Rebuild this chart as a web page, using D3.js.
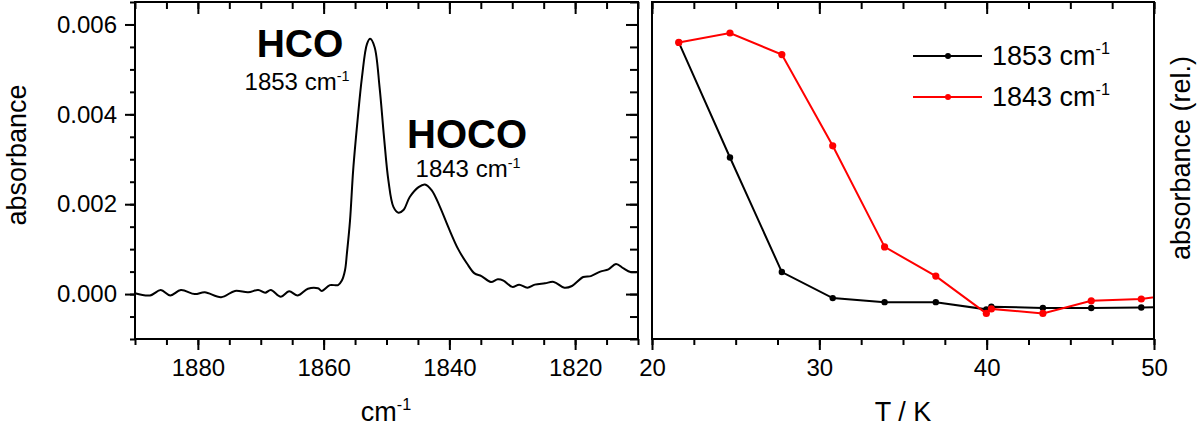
<!DOCTYPE html>
<html>
<head>
<meta charset="utf-8">
<script src="https://cdn.jsdelivr.net/npm/d3@7"></script>
<style>
    body { margin: 0; background: #fff; }
    svg { display: block; font-family: "Liberation Sans", Arial, sans-serif; }
</style>
</head>
<body>
<svg id="chart" width="1200" height="428"></svg>
<script>
// spectrum (left panel)
var wavenumber = [1890, 1887.6, 1885.9, 1884.4, 1882.7, 1880.5, 1878.9, 1876.3, 1874.1, 1872, 1870.4, 1869.3,
    1868.4, 1866.8, 1865.5, 1864.1, 1862.5, 1860.9, 1860.3, 1859, 1857.7, 1857.1, 1856.6, 1856.3, 1855.8,
    1855.3, 1854.6, 1853.9, 1853.1, 1852.6, 1851.9, 1851.1, 1850.4, 1849.7, 1848.9, 1848.1, 1847.3, 1846.3,
    1844.9, 1843.9, 1842.8, 1841.5, 1840.2, 1838.6, 1837.2, 1836, 1834.9, 1833.4, 1832.3, 1831.4, 1830,
    1828.9, 1827.6, 1826.4, 1824.8, 1823.4, 1821.7, 1820.5, 1818.7, 1817.5, 1816, 1814.7, 1813.5, 1812.3,
    1811.2, 1810];
var absorbance = [0.00002, -0.00003, 0.00009, -0.00003, 0.00009, 0, 0.00004, -0.00007, 0.00007, 0.00004,
    0.00009, 0.00003, 0.00009, -0.00006, 0.00006, -0.00003, 0.00012, 0.00013, 0.00007, 0.0002, 0.0002,
    0.0003, 0.00053, 0.0009, 0.00164, 0.00276, 0.00387, 0.00483, 0.00557, 0.00568, 0.0055, 0.0046, 0.0035,
    0.00253, 0.00194, 0.00181, 0.00187, 0.00216, 0.00238, 0.00244, 0.00231, 0.00194, 0.0015, 0.001,
    0.00068, 0.00046, 0.0004, 0.00027, 0.00033, 0.0003, 0.00016, 0.00021, 0.00014, 0.00021, 0.00024,
    0.00027, 0.00014, 0.00018, 0.00038, 0.0004, 0.0005, 0.00055, 0.00067, 0.00057, 0.00049, 0.00049];
var specTicks = [1880, 1860, 1840, 1820];
var absTicks = [0, 0.002, 0.004, 0.006];

// band intensity vs temperature (right panel)
var temperature = [21.6, 24.66, 27.76, 30.8, 33.9, 36.96, 39.98, 40.28, 43.36, 46.25, 49.24, 52.3];
var abs1853 = [0.0056, 0.00304, 0.00049, -0.00009, -0.00018, -0.00018, -0.00034, -0.00028, -0.00031,
    -0.00031, -0.0003, -0.00028];
var abs1843 = [0.0056, 0.00581, 0.00533, 0.0033, 0.00105, 0.0004, -0.00043, -0.00033, -0.00043,
    -0.00015, -0.00011, 0.00005];
var seriesNames = ['1853', '1843'];
var seriesColors = ['#000000', '#ff0000'];
var tempTicks = [20, 30, 40, 50];

(function() {
    var svg = d3.select('#chart');
    var plotTop = 2, plotBottom = 339;
    var font = '"Liberation Sans", Arial, sans-serif';

    var yAbs = d3.scaleLinear().domain([-0.001, 0.0065]).range([plotBottom, plotTop]);
    var xSpec = d3.scaleLinear().domain([1890, 1810]).range([135, 638]);
    var xTemp = d3.scaleLinear().domain([20, 50]).range([652, 1154]);

    function styleAxis(g) {
        g.attr('font-family', font).attr('font-size', 24);
        g.select('.domain').remove();
        g.selectAll('line').attr('stroke', '#000').attr('stroke-width', 2);
        g.selectAll('text').attr('fill', '#000');
    }

    // "cm-1" with superscript
    function cmText(sel, num) {
        if (num) sel.append('tspan').text(num + ' ');
        sel.append('tspan').text('cm');
        sel.append('tspan').attr('font-size', '0.6em').attr('dy', '-0.65em').text('-1');
    }

    // ---------- left panel ----------
    var left = svg.append('g');
    var minorSpec = d3.range(1810, 1891, 5);
    var minorAbs = d3.range(-0.001, 0.00651, 0.0005);

    left.append('g').attr('transform', 'translate(0,' + plotBottom + ')')
        .call(d3.axisBottom(xSpec).tickValues(minorSpec).tickSize(6).tickFormat(''))
        .call(styleAxis);
    left.append('g').attr('transform', 'translate(0,' + plotBottom + ')')
        .call(d3.axisBottom(xSpec).tickValues(specTicks).tickSize(11).tickPadding(9).tickFormat(d3.format('d')))
        .call(styleAxis);
    left.append('g').attr('transform', 'translate(0,' + plotTop + ')')
        .call(d3.axisTop(xSpec).tickValues(minorSpec).tickSize(-7).tickFormat(''))
        .call(styleAxis);
    left.append('g').attr('transform', 'translate(0,' + plotTop + ')')
        .call(d3.axisTop(xSpec).tickValues(specTicks).tickSize(-12).tickFormat(''))
        .call(styleAxis);
    left.append('g').attr('transform', 'translate(135,0)')
        .call(d3.axisLeft(yAbs).tickValues(minorAbs).tickSize(5).tickFormat(''))
        .call(styleAxis);
    left.append('g').attr('transform', 'translate(135,0)')
        .call(d3.axisLeft(yAbs).tickValues(absTicks).tickSize(10).tickPadding(8).tickFormat(d3.format('.3f')))
        .call(styleAxis);
    left.append('g').attr('transform', 'translate(638,0)')
        .call(d3.axisRight(yAbs).tickValues(minorAbs).tickSize(-8).tickFormat(''))
        .call(styleAxis);
    left.append('g').attr('transform', 'translate(638,0)')
        .call(d3.axisRight(yAbs).tickValues(absTicks).tickSize(-12).tickFormat(''))
        .call(styleAxis);

    var specLine = d3.line()
        .x(function(d, i) { return xSpec(wavenumber[i]); })
        .y(function(d) { return yAbs(d); })
        .curve(d3.curveCatmullRom);

    left.append('path')
        .datum(absorbance)
        .attr('d', specLine)
        .attr('fill', 'none')
        .attr('stroke', '#000')
        .attr('stroke-width', 2);

    left.append('rect')
        .attr('x', 135).attr('y', plotTop)
        .attr('width', 638 - 135).attr('height', plotBottom - plotTop)
        .attr('fill', 'none').attr('stroke', '#000').attr('stroke-width', 2);

    // peak labels
    left.append('text').attr('x', 300).attr('y', 57).attr('text-anchor', 'middle')
        .attr('font-size', 39).attr('font-weight', 'bold').text('HCO');
    left.append('text').attr('x', 297).attr('y', 90).attr('text-anchor', 'middle')
        .attr('font-size', 24).call(cmText, '1853');
    left.append('text').attr('x', 467).attr('y', 148).attr('text-anchor', 'middle')
        .attr('font-size', 40).attr('font-weight', 'bold').text('HOCO');
    left.append('text').attr('x', 468).attr('y', 177).attr('text-anchor', 'middle')
        .attr('font-size', 24).call(cmText, '1843');

    left.append('text')
        .attr('transform', 'translate(26,155) rotate(-90)')
        .attr('text-anchor', 'middle').attr('font-size', 27).text('absorbance');
    left.append('text').attr('x', 386).attr('y', 421).attr('text-anchor', 'middle')
        .attr('font-size', 27).call(cmText, null);

    // ---------- right panel ----------
    var right = svg.append('g');
    var minorTemp = d3.range(20, 50.01, 2.5);

    right.append('g').attr('transform', 'translate(0,' + plotBottom + ')')
        .call(d3.axisBottom(xTemp).tickValues(minorTemp).tickSize(6).tickFormat(''))
        .call(styleAxis);
    right.append('g').attr('transform', 'translate(0,' + plotBottom + ')')
        .call(d3.axisBottom(xTemp).tickValues(tempTicks).tickSize(11).tickPadding(9).tickFormat(d3.format('d')))
        .call(styleAxis);
    right.append('g').attr('transform', 'translate(0,' + plotTop + ')')
        .call(d3.axisTop(xTemp).tickValues(minorTemp).tickSize(-7).tickFormat(''))
        .call(styleAxis);
    right.append('g').attr('transform', 'translate(0,' + plotTop + ')')
        .call(d3.axisTop(xTemp).tickValues(tempTicks).tickSize(-12).tickFormat(''))
        .call(styleAxis);

    svg.append('clipPath').attr('id', 'clipR')
        .append('rect').attr('x', 652).attr('y', plotTop)
        .attr('width', 1154 - 652).attr('height', plotBottom - plotTop);

    var plotR = right.append('g').attr('clip-path', 'url(#clipR)');
    var series = [abs1853, abs1843];
    var tLine = d3.line()
        .x(function(d, i) { return xTemp(temperature[i]); })
        .y(function(d) { return yAbs(d); });

    series.forEach(function(vals, k) {
        plotR.append('path')
            .datum(vals)
            .attr('d', tLine)
            .attr('fill', 'none')
            .attr('stroke', seriesColors[k])
            .attr('stroke-width', 2);
        plotR.selectAll('.pt' + k)
            .data(vals)
            .enter().append('circle')
            .attr('class', 'pt' + k)
            .attr('cx', function(d, i) { return xTemp(temperature[i]); })
            .attr('cy', function(d) { return yAbs(d); })
            .attr('r', k === 0 ? 3.2 : 3.6)
            .attr('fill', seriesColors[k]);
    });

    right.append('rect')
        .attr('x', 652).attr('y', plotTop)
        .attr('width', 1154 - 652).attr('height', plotBottom - plotTop)
        .attr('fill', 'none').attr('stroke', '#000').attr('stroke-width', 2);

    // legend
    var legend = right.append('g');
    seriesNames.forEach(function(name, k) {
        var ly = 56 + k * 41;
        legend.append('line').attr('x1', 913).attr('x2', 982).attr('y1', ly).attr('y2', ly)
            .attr('stroke', seriesColors[k]).attr('stroke-width', 2);
        legend.append('circle').attr('cx', 948).attr('cy', ly).attr('r', 3).attr('fill', seriesColors[k]);
        legend.append('text').attr('x', 992).attr('y', ly + 9).attr('font-size', 27).call(cmText, name);
    });

    right.append('text').attr('x', 903).attr('y', 421).attr('text-anchor', 'middle')
        .attr('font-size', 27).text('T / K');
    right.append('text')
        .attr('transform', 'translate(1190,158) rotate(-90)')
        .attr('text-anchor', 'middle').attr('font-size', 27).text('absorbance (rel.)');
})();
</script>
</body>
</html>
